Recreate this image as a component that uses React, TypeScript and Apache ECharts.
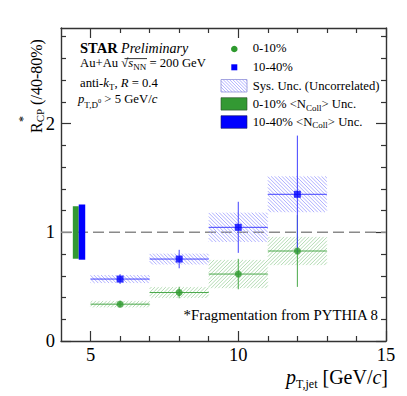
import React, { useEffect, useRef } from 'react';
import * as echarts from 'echarts';

// ---- Data ----
const binCenters = [6, 8, 10, 12];
const binLow = [5, 7, 9, 11];
const binHigh = [7, 9, 11, 13];
const rcp1040 = [0.57, 0.754, 1.046, 1.35];
const stat1040 = [0.045, 0.085, 0.235, 0.54];
const sys1040 = [0.037, 0.05, 0.135, 0.165];
const rcp010 = [0.339, 0.446, 0.616, 0.828];
const stat010 = [0.025, 0.053, 0.14, 0.33];
const sys010 = [0.03, 0.05, 0.13, 0.13];
const ncollX010 = [4.4, 4.6];
const ncollY010 = [0.757, 1.24];
const ncollX1040 = [4.6, 4.82];
const ncollY1040 = [0.748, 1.256];
const refLine = [[4, 1], [15, 1]];
const xMajorTicks = [5, 10, 15];
const xMinorTicks = [6, 7, 8, 9, 11, 12, 13, 14];
const yMajorTicks = [0, 1, 2];
const yMinorTicks = [0.2, 0.4, 0.6, 0.8, 1.2, 1.4, 1.6, 1.8, 2.2, 2.4, 2.6, 2.8];

const FONT = "'Liberation Serif', 'Times New Roman', serif";
const BLUE = '#0000ff';
const GREEN = '#2e9a2e';
const BLUE_LINE = '#4040ff';
const GREEN_LINE = '#4aa84a';
const BLUE_HATCH = '#9a9aff';
const GREEN_HATCH = '#9fd29f';

function hatchSegments(x0: number, y0: number, w: number, h: number, s: number, dir: string) {
  const segs: number[][] = [];
  if (dir === '\\') {
    const cMin = y0 - (x0 + w);
    const cMax = y0 + h - x0;
    for (let c = cMin + s / 2; c < cMax; c += s) {
      const xa = Math.max(x0, y0 - c);
      const xb = Math.min(x0 + w, y0 + h - c);
      if (xb > xa) segs.push([xa, xa + c, xb, xb + c]);
    }
  } else {
    const cMin = x0 + y0;
    const cMax = x0 + w + y0 + h;
    for (let c = cMin + s / 2; c < cMax; c += s) {
      const xa = Math.max(x0, c - y0 - h);
      const xb = Math.min(x0 + w, c - y0);
      if (xb > xa) segs.push([xa, c - xa, xb, c - xb]);
    }
  }
  return segs;
}

function hatchRender(dir: string, color: string) {
  return (params: any, api: any) => {
    const p0 = api.coord([api.value(0), api.value(3)]);
    const p1 = api.coord([api.value(1), api.value(2)]);
    const segs = hatchSegments(p0[0], p0[1], p1[0] - p0[0], p1[1] - p0[1], 3.6, dir);
    return {
      type: 'group',
      children: segs.map((s) => ({
        type: 'line',
        shape: { x1: s[0], y1: s[1], x2: s[2], y2: s[3] },
        style: { stroke: color, lineWidth: 0.8 },
      })),
    };
  };
}

function errRender(color: string) {
  return (params: any, api: any) => {
    const x = api.value(0), xl = api.value(1), xh = api.value(2), y = api.value(3), e = api.value(4);
    const l = api.coord([xl, y]);
    const r = api.coord([xh, y]);
    const t = api.coord([x, y + e]);
    const b = api.coord([x, y - e]);
    return {
      type: 'group',
      children: [
        { type: 'line', shape: { x1: l[0], y1: l[1], x2: r[0], y2: r[1] }, style: { stroke: color, lineWidth: 1 } },
        { type: 'line', shape: { x1: t[0], y1: t[1], x2: b[0], y2: b[1] }, style: { stroke: color, lineWidth: 1 } },
      ],
    };
  };
}

function boxRender(color: string) {
  return (params: any, api: any) => {
    const p0 = api.coord([api.value(0), api.value(3)]);
    const p1 = api.coord([api.value(1), api.value(2)]);
    return {
      type: 'rect',
      shape: { x: p0[0], y: p0[1], width: p1[0] - p0[0], height: p1[1] - p0[1] },
      style: { fill: color, stroke: null },
    };
  };
}

function tok(size: number, extra: any = {}) {
  return { fontFamily: FONT, fontSize: size, fill: '#000', color: '#000', ...extra };
}

function txt(x: number, y: number, text: string, size: number, rich: any = {}, align = 'left', extra: any = {}) {
  return {
    type: 'text',
    x,
    y,
    ...extra,
    style: {
      text,
      fontFamily: FONT,
      fontSize: size,
      fill: '#000',
      align,
      textAlign: align,
      verticalAlign: 'middle',
      textVerticalAlign: 'middle',
      rich,
    },
  };
}

export default function App() {
  const ref = useRef<HTMLDivElement>(null);
  useEffect(() => {
    if (!ref.current) return;
    const chart = echarts.init(ref.current, null, { renderer: 'svg' });

    const sysData1040 = binCenters.map((_, i) => [binLow[i], binHigh[i], rcp1040[i] - sys1040[i], rcp1040[i] + sys1040[i]]);
    const sysData010 = binCenters.map((_, i) => [binLow[i], binHigh[i], rcp010[i] - sys010[i], rcp010[i] + sys010[i]]);
    const errData1040 = binCenters.map((x, i) => [x, binLow[i], binHigh[i], rcp1040[i], stat1040[i]]);
    const errData010 = binCenters.map((x, i) => [x, binLow[i], binHigh[i], rcp010[i], stat010[i]]);

    const axisLineStyle = { color: '#333', width: 1.4 };
    const mkX = (pos: string, major: boolean, labels: boolean) => ({
      type: 'value',
      min: 4,
      max: 15,
      position: pos,
      axisLine: { show: major, onZero: false, lineStyle: axisLineStyle },
      axisTick: {
        show: true,
        inside: true,
        length: major ? 10 : 5,
        customValues: major ? xMajorTicks : xMinorTicks,
        lineStyle: { color: '#333', width: 1.2 },
      },
      axisLabel: {
        show: labels,
        customValues: xMajorTicks,
        fontFamily: FONT,
        fontSize: 18.5,
        color: '#000',
        margin: 4,
        showMinLabel: true,
        showMaxLabel: true,
      },
      splitLine: { show: false },
    });
    const mkY = (pos: string, major: boolean, labels: boolean) => ({
      type: 'value',
      min: 0,
      max: 2.88,
      position: pos,
      axisLine: { show: major, onZero: false, lineStyle: axisLineStyle },
      axisTick: {
        show: true,
        inside: true,
        length: major ? 10 : 5,
        customValues: major ? yMajorTicks : yMinorTicks,
        lineStyle: { color: '#333', width: 1.2 },
      },
      axisLabel: {
        show: labels,
        customValues: yMajorTicks,
        fontFamily: FONT,
        fontSize: 18.5,
        color: '#000',
        margin: 6,
        showMinLabel: true,
        showMaxLabel: true,
      },
      splitLine: { show: false },
    });

    const legHatch = hatchSegments(221, 79.5, 26, 12.5, 3.2, '\\').map((s) => ({
      type: 'line',
      shape: { x1: s[0], y1: s[1], x2: s[2], y2: s[3] },
      style: { stroke: BLUE_HATCH, lineWidth: 0.8 },
    }));

    const subS = (size: number, pad: number, extra: any = {}) => tok(size, { padding: [pad, 0, 0, 0], ...extra });

    chart.setOption({
      animation: false,
      grid: { left: 61, right: 21, top: 28, bottom: 55, containLabel: false },
      xAxis: [mkX('bottom', true, true), mkX('bottom', false, false), mkX('top', true, false), mkX('top', false, false)],
      yAxis: [mkY('left', true, true), mkY('left', false, false), mkY('right', true, false), mkY('right', false, false)],
      series: [
        {
          type: 'line',
          data: refLine,
          symbol: 'none',
          lineStyle: { color: '#8a8a8a', width: 1.6, type: [11, 5] },
          z: 1,
        },
        { type: 'custom', renderItem: hatchRender('/', GREEN_HATCH), data: sysData010, z: 2 },
        { type: 'custom', renderItem: hatchRender('\\', BLUE_HATCH), data: sysData1040, z: 2 },
        { type: 'custom', renderItem: errRender(GREEN_LINE), data: errData010, z: 3 },
        { type: 'custom', renderItem: errRender(BLUE_LINE), data: errData1040, z: 3 },
        {
          type: 'scatter',
          data: binCenters.map((x, i) => [x, rcp010[i]]),
          symbol: 'circle',
          symbolSize: 7,
          itemStyle: { color: GREEN },
          z: 4,
        },
        {
          type: 'scatter',
          data: binCenters.map((x, i) => [x, rcp1040[i]]),
          symbol: 'rect',
          symbolSize: 7,
          itemStyle: { color: BLUE },
          z: 4,
        },
        { type: 'custom', renderItem: boxRender('#339933'), data: [[ncollX010[0], ncollX010[1], ncollY010[0], ncollY010[1]]], z: 5 },
        { type: 'custom', renderItem: boxRender(BLUE), data: [[ncollX1040[0], ncollX1040[1], ncollY1040[0], ncollY1040[1]]], z: 5 },
      ],
      graphic: [
        txt(80, 48, '{b|STAR} {i|Preliminary}', 14, {
          b: tok(14.5, { fontWeight: 'bold' }),
          i: tok(14, { fontStyle: 'italic' }),
        }),
        txt(80, 63, 'Au+Au {r|√}{i|s}{sub|NN} = 200 GeV', 12.7, {
          r: tok(12.7),
          i: tok(12.7, { fontStyle: 'italic' }),
          sub: subS(9, 7),
        }),
        { type: 'line', shape: { x1: 124.5, y1: 58.6, x2: 147, y2: 58.6 }, style: { stroke: '#000', lineWidth: 0.8 } },
        txt(80, 83, 'anti-{i|k}{sub|T}, {i|R} = 0.4', 12.7, {
          i: tok(12.7, { fontStyle: 'italic' }),
          sub: subS(9, 7),
        }),
        txt(78, 98.6, '{i|p}{sub|T,D}{sup|0} > 5 GeV/{i|c}', 12.7, {
          i: tok(12.7, { fontStyle: 'italic' }),
          sub: subS(9, 12),
          sup: subS(6.5, 4),
        }),
        { type: 'circle', shape: { cx: 234.3, cy: 49, r: 3.3 }, style: { fill: GREEN } },
        { type: 'rect', shape: { x: 231.3, y: 64.3, width: 6, height: 6 }, style: { fill: BLUE } },
        { type: 'group', children: legHatch },
        { type: 'rect', shape: { x: 221, y: 79.5, width: 26, height: 12.5 }, style: { fill: 'none', stroke: '#8f8fd8', lineWidth: 0.8 } },
        { type: 'rect', shape: { x: 221, y: 97.7, width: 26, height: 12.4 }, style: { fill: '#339933', stroke: '#2a4a2a', lineWidth: 0.6 } },
        { type: 'rect', shape: { x: 221, y: 115.7, width: 26, height: 12.6 }, style: { fill: BLUE, stroke: '#1a1a60', lineWidth: 0.6 } },
        txt(252.7, 48.4, '0-10%', 12.7),
        txt(252.7, 66.8, '10-40%', 12.7),
        txt(252.7, 85.7, 'Sys. Unc. (Uncorrelated)', 12.7),
        txt(252.7, 104, '0-10% <N{sub|Coll}> Unc.', 12.7, { sub: subS(9, 7) }),
        txt(252.7, 121.8, '10-40% <N{sub|Coll}> Unc.', 12.7, { sub: subS(9, 7) }),
        txt(378, 315, '*Fragmentation from PYTHIA 8', 14.8, {}, 'right'),
        txt(388, 377, '{i|p}{sub|T,jet} [GeV/{i|c}]', 20, {
          i: tok(20, { fontStyle: 'italic' }),
          sub: subS(12, 14),
        }, 'right'),
        txt(36, 133, 'R{sub|CP} (/40-80%)', 16, { sub: subS(11, 8) }, 'left', { rotation: Math.PI / 2 }),
        txt(23, 119, '*', 12, {}, 'center', { rotation: Math.PI / 2 }),
      ],
    });
    return () => chart.dispose();
  }, []);
  return <div ref={ref} style={{ width: 407, height: 396, position: 'absolute', left: 0, top: 0 }} />;
}
